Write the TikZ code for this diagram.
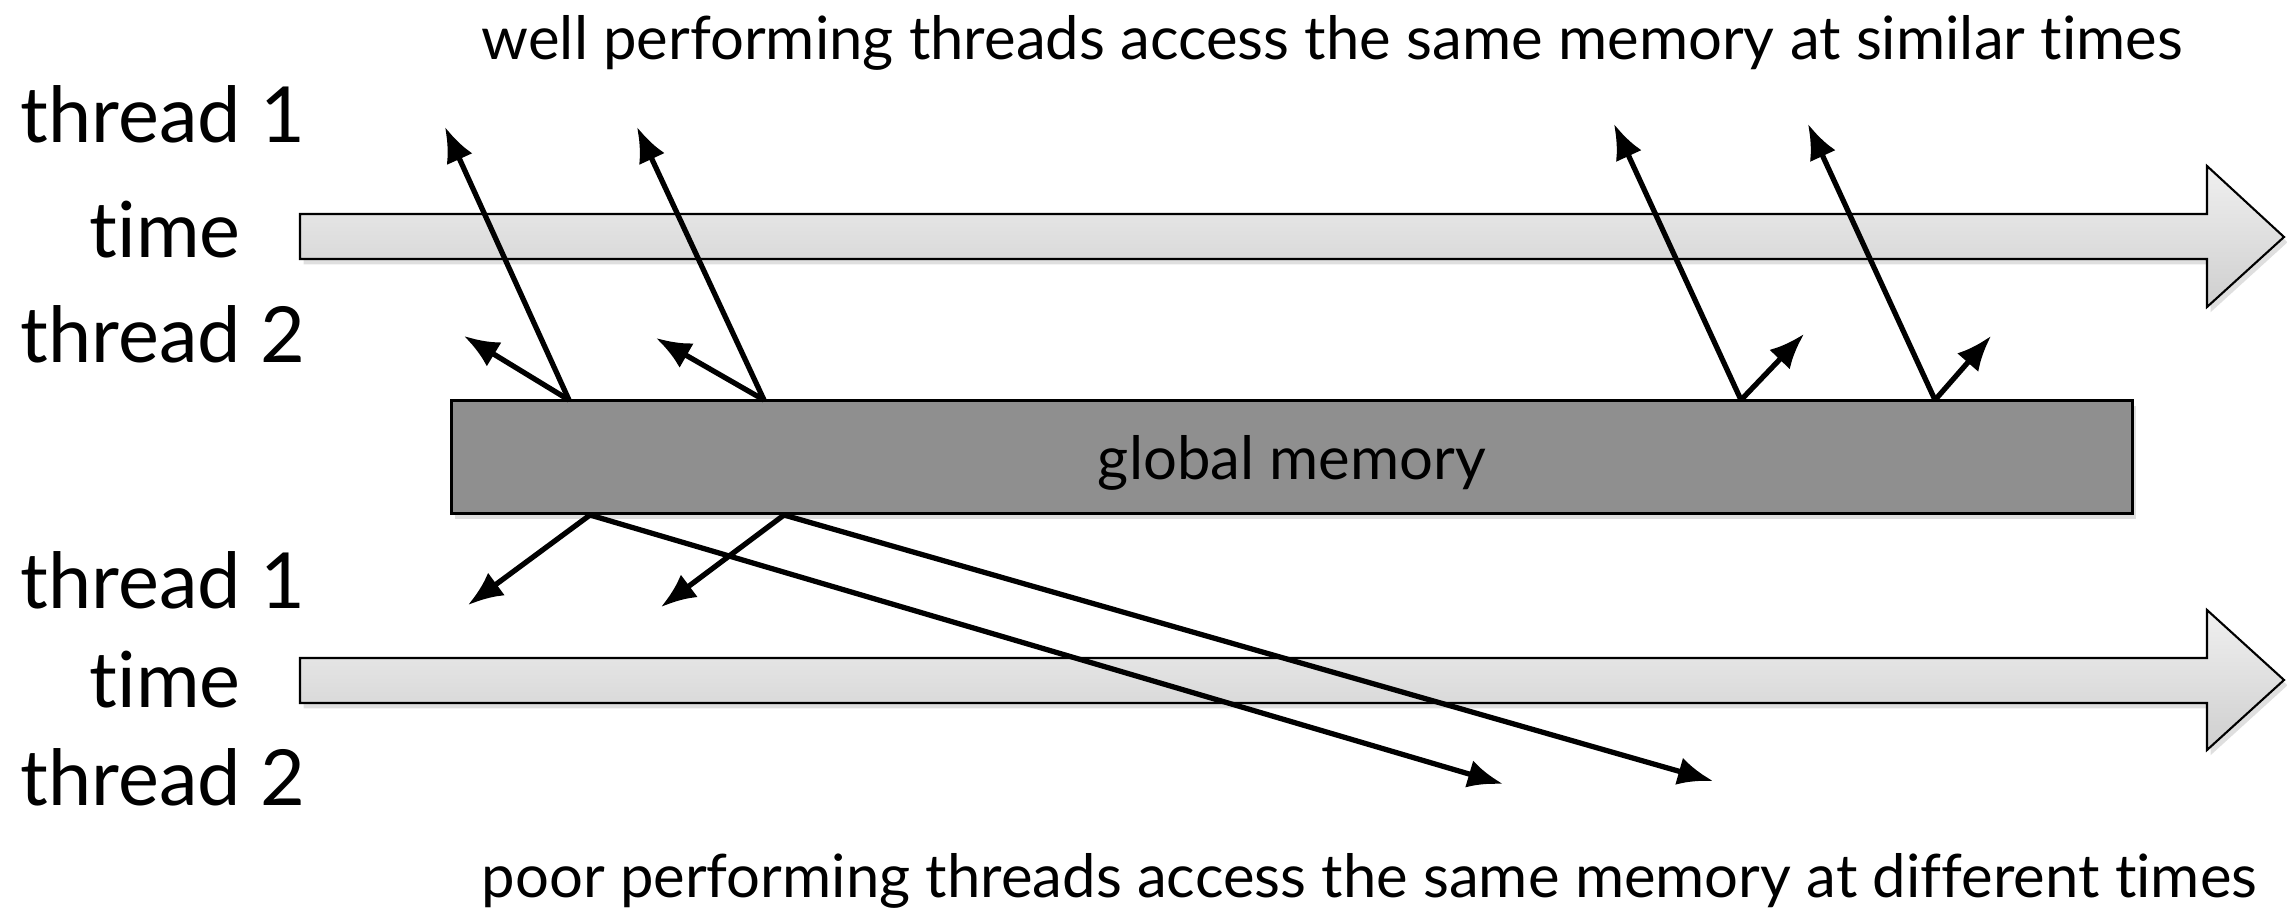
\documentclass[tikz,border=0pt]{standalone}
\usepackage{fontspec}
\setmainfont{Lato}[Ligatures=NoCommon]
\usepackage{xcolor}
\usetikzlibrary{arrows.meta, shadows}

\definecolor{memgray}{RGB}{143,143,143}

\tikzset{
  timebar/.style={draw=black, line width=0.6pt, top color=gray!12, bottom color=gray!38,
    drop shadow={opacity=0.25, shadow xshift=1pt, shadow yshift=-1.5pt}},
  access/.style={-{Latex[length=10pt,width=8pt]}, line width=1.5pt},
  lbl/.style={anchor=base west, inner sep=0pt, font=\fontsize{22}{26}\selectfont},
  caption/.style={anchor=base west, inner sep=0pt, font=\fontsize{17}{20}\selectfont},
}

\begin{document}
\begin{tikzpicture}[x=0.01cm, y=-0.01cm]
    \useasboundingbox (0,0) rectangle (2287,915);

    % Frecce del tempo
    \draw[timebar] (300,214) -- (2207,214) -- (2207,166) -- (2284,237) -- (2207,307) -- (2207,259) -- (300,259) -- cycle;
    \draw[timebar] (300,658) -- (2207,658) -- (2207,610) -- (2284,680) -- (2207,750) -- (2207,703) -- (300,703) -- cycle;

    % Memoria globale
    \node[rectangle,draw=black,line width=0.6pt,fill=memgray,minimum width=16.80cm,minimum height=1.13cm,
      text depth=0pt,font=\fontsize{17}{20}\selectfont,
      drop shadow={opacity=0.25,shadow xshift=1pt,shadow yshift=-1.5pt}] (mem) at (1292,457) {global memory};

    % Etichette
    \node[lbl] (t1a) at (20,143) {thread 1};
    \node[lbl] (tma) at (89,257) {time};
    \node[lbl] (t2a) at (20,362) {thread 2};
    \node[lbl] (t1b) at (20,608) {thread 1};
    \node[lbl] (tmb) at (89,707) {time};
    \node[lbl] (t2b) at (20,805) {thread 2};

    \node[caption] (good) at (481,60) {well performing threads access the same memory at similar times};
    \node[caption] (poor) at (481,897) {poor performing threads access the same memory at different times};

    % Accessi buoni
    \coordinate (a0) at (569,400);  \coordinate (a1) at (445,127);  \coordinate (a2) at (464,336);
    \coordinate (b0) at (764,400);  \coordinate (b1) at (637,127);  \coordinate (b2) at (656,338);
    \coordinate (c0) at (1741,400); \coordinate (c1) at (1614,124); \coordinate (c2) at (1804,334);
    \coordinate (d0) at (1935,400); \coordinate (d1) at (1808,124); \coordinate (d2) at (1991,336);
    \draw[access] (a0) -- (a1);
    \draw[access] (a0) -- (a2);
    \draw[access] (b0) -- (b1);
    \draw[access] (b0) -- (b2);
    \draw[access] (c0) -- (c1);
    \draw[access] (c0) -- (c2);
    \draw[access] (d0) -- (d1);
    \draw[access] (d0) -- (d2);

    % Accessi cattivi
    \coordinate (e0) at (590,515);  \coordinate (e1) at (468,605);  \coordinate (e2) at (1503,784);
    \coordinate (f0) at (784,515);  \coordinate (f1) at (661,607);  \coordinate (f2) at (1713,781);
    \draw[access] (e0) -- (e1);
    \draw[access] (e0) -- (e2);
    \draw[access] (f0) -- (f1);
    \draw[access] (f0) -- (f2);
\end{tikzpicture}
\end{document}
